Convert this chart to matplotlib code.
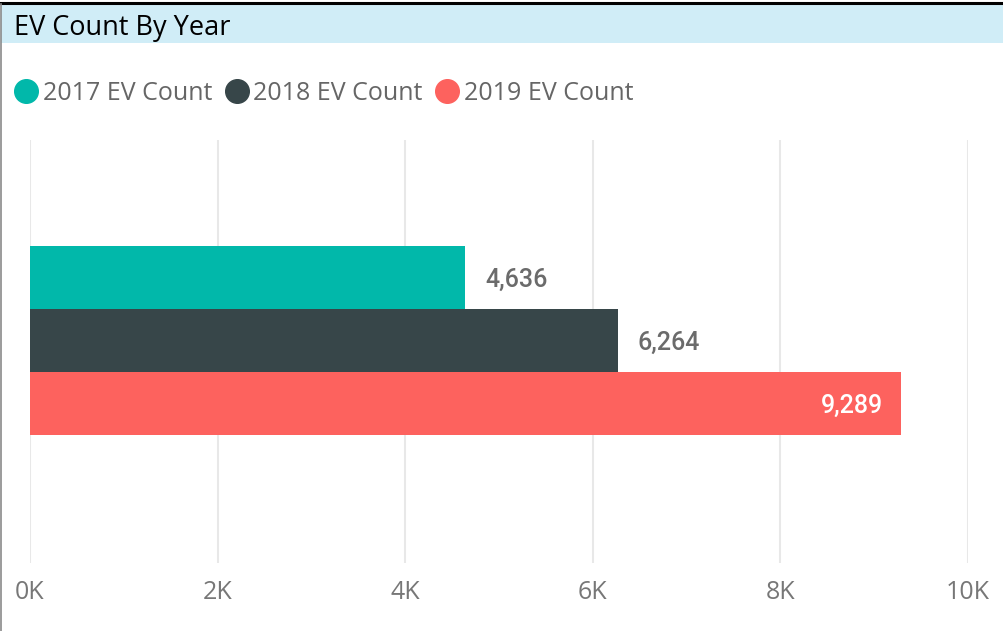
import matplotlib
matplotlib.use('Agg')
import matplotlib.pyplot as plt
from matplotlib.patches import Rectangle
from matplotlib.lines import Line2D

# data
years = ['2017 EV Count', '2018 EV Count', '2019 EV Count']
counts = [4636, 6264, 9289]
colors = ['#01B8AA', '#374649', '#FD625E']
xticks = [0, 2000, 4000, 6000, 8000, 10000]
xtick_labels = ['0K', '2K', '4K', '6K', '8K', '10K']

W, H = 1004, 631
fig = plt.figure(figsize=(W / 100, H / 100), dpi=100)
fig.patch.set_facecolor('white')

# title bar + borders
fig.patches.append(Rectangle((1 / W, 1 - 43 / H), 1, 38 / H, transform=fig.transFigure,
                             facecolor='#D0EDF7', edgecolor='none', zorder=0))
fig.add_artist(Line2D([0, 1], [1 - 3 / H, 1 - 3 / H], transform=fig.transFigure,
                      color='black', linewidth=2.2))
fig.add_artist(Line2D([0.6 / W, 0.6 / W], [0, 1 - 4 / H], transform=fig.transFigure,
                      color='#8a8a8a', linewidth=1.2))
fig.text(14 / W, 1 - 35 / H, 'EV Count By Year', fontsize=19.5, family='Open Sans',
         color='black', va='baseline', ha='left')

# plot area
ax = fig.add_axes([30 / W, 1 - 563 / H, (968 - 30) / W, (563 - 140) / H])
pos = list(range(len(counts)))
ax.barh(pos, counts, height=1.0, color=colors, zorder=3)
ax.set_xlim(0, 10000)
ax.set_ylim(4.53, -2.18)
ax.set_yticks([])
ax.set_xticks(xticks)
ax.set_xticklabels(xtick_labels, family='Open Sans', fontsize=18, color='#777777')
ax.tick_params(axis='x', length=0, pad=12.5)
ax.grid(axis='x', color='#E8E8E8', linewidth=1.5, zorder=0)
for s in ax.spines.values():
    s.set_visible(False)

for p, v in zip(pos, counts):
    txt = f'{v:,}'
    if v > 8500:
        ax.annotate(txt, (v, p), xytext=(-13.5, -2), textcoords='offset points',
                    ha='right', va='center', color='white', fontsize=18,
                    family='Roboto', fontweight='medium', zorder=4)
    else:
        ax.annotate(txt, (v, p), xytext=(14.5, -2), textcoords='offset points',
                    ha='left', va='center', color='#6b6b6b', fontsize=18,
                    family='Roboto', fontweight='medium', zorder=4)

# legend
handles = [Line2D([], [], marker='o', linestyle='none', markersize=17,
                  markerfacecolor=c, markeredgecolor=c) for c in colors]
leg = fig.legend(handles, years, loc='center left', bbox_to_anchor=(14 / W, 1 - 93 / H),
                 ncol=3, frameon=False, handlelength=0.95, handletextpad=0.2,
                 columnspacing=0.5, borderpad=0, borderaxespad=0,
                 prop={'family': 'Open Sans', 'size': 18})
for t in leg.get_texts():
    t.set_color('#666666')

fig.savefig('out.png', dpi=100, facecolor='white')
